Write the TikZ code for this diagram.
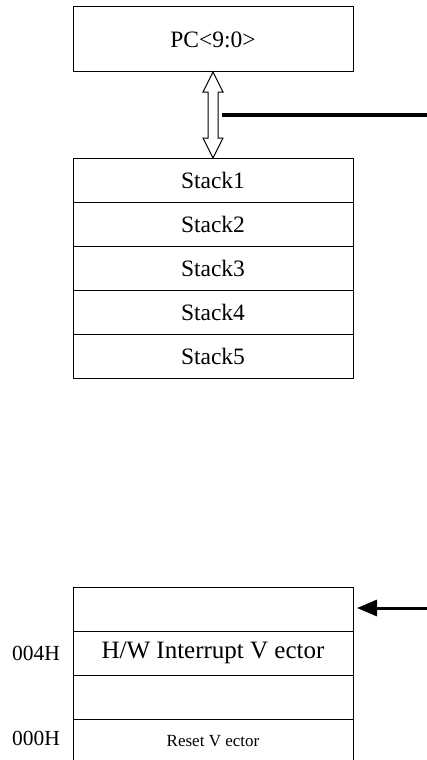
\documentclass[tikz,border=0pt]{standalone}
\usepackage{fontspec}
\setmainfont{Liberation Serif}
\usetikzlibrary{arrows.meta,calc}
\begin{document}
\begin{tikzpicture}[x=1pt,y=-1pt,
  cell/.style={draw,line width=1pt,minimum width=280pt,minimum height=44pt,inner sep=0pt,outer sep=0pt,font=\fontsize{23.5}{27}\selectfont},
  lbl/.style={inner sep=0pt,font=\fontsize{21.5}{25}\selectfont}]
\useasboundingbox (0,0) rectangle (427,760);
\node[cell,minimum height=65pt] (pc) at (213,39.5) {PC<9:0>};
\node[cell] (s1) at (213,180) {Stack1};
\node[cell] (s2) at (213,224) {Stack2};
\node[cell] (s3) at (213,268) {Stack3};
\node[cell] (s4) at (213,312) {Stack4};
\node[cell] (s5) at (213,356) {Stack5};
% double arrow
\draw[line width=1pt,fill=white]
  (pc.south) -- ($(pc.south)+(10,20)$) -- ($(pc.south)+(5,20)$) -- ($(s1.north)+(5,-20)$)
  -- ($(s1.north)+(10,-20)$) -- (s1.north) -- ($(s1.north)+(-10,-20)$) -- ($(s1.north)+(-5,-20)$)
  -- ($(pc.south)+(-5,20)$) -- ($(pc.south)+(-10,20)$) -- cycle;
\coordinate (bs) at ($(pc.south)!0.5!(s1.north)+(9,0)$);
\coordinate (be) at (427,115);
\draw[line width=4pt] (bs) -- (be |- bs);
% bottom memory map
\node[cell] (m3) at (213,609) {};
\node[cell,font=\fontsize{25}{29}\selectfont] (m2) at (213,653) {H/W Interrupt V ector};
\node[cell] (m1) at (213,697) {};
\node[cell,font=\fontsize{17}{20}\selectfont] (m0) at (213,741) {Reset V ector};
\node[lbl] (a4) at (36,653) {004H};
\node[lbl] (a0) at (36,738) {000H};
\coordinate (ae) at (427,608);
\draw[line width=3pt,-{Triangle[length=20pt,width=16pt]}] (ae) -- ($(m3.east|-ae)+(4,0)$);
\end{tikzpicture}
\end{document}
